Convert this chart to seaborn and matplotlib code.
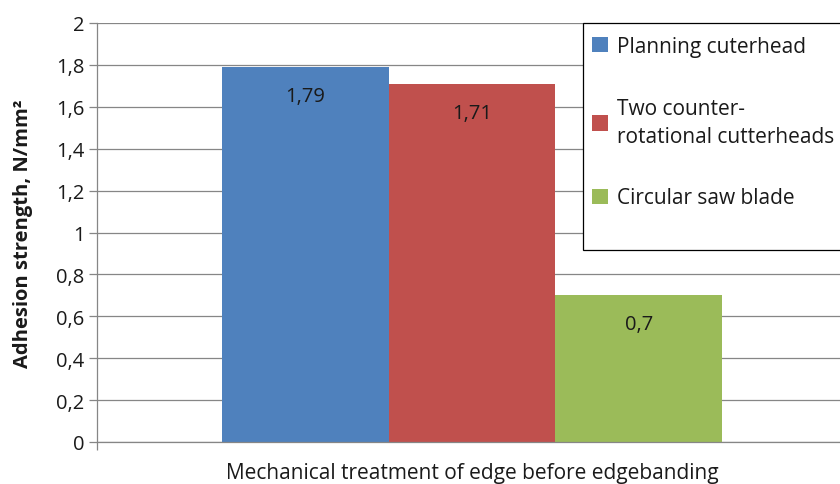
import numpy as np
import matplotlib
matplotlib.use('Agg')
import matplotlib.pyplot as plt
from matplotlib.patches import Rectangle
import pandas as pd
import seaborn as sns

treatments = ['Planning cuterhead', 'Two counter-\nrotational cutterheads', 'Circular saw blade']
strength = [1.79, 1.71, 0.7]
colors = ['#4F81BD', '#C0504D', '#9BBB59']
yticks = [0, 0.2, 0.4, 0.6, 0.8, 1.0, 1.2, 1.4, 1.6, 1.8, 2.0]

df = pd.DataFrame({'group': ['g'] * 3, 'treatment': treatments, 'strength': strength})

sns.set_style('white')
plt.rcParams['font.family'] = ['Open Sans', 'DejaVu Sans']
fs = 15
txt = '#1a1a1a'
grey = '#868686'

W, H = 840, 485
fig = plt.figure(figsize=(W / 100, H / 100), dpi=100)
ax = fig.add_axes([97 / W, 42 / H, 750 / W, 419 / H])

sns.barplot(data=df, x='group', y='strength', hue='treatment', hue_order=treatments,
            palette=colors, saturation=1, width=0.667, linewidth=0, ax=ax)

for c in ax.containers:
    ax.bar_label(c, fmt=lambda v: f'{v:g}'.replace('.', ','), padding=-28, fontsize=14.5, color=txt)

ax.set_xlim(-0.5, 0.5)
ax.set_ylim(0, 2)
ax.set_yticks(yticks)
ax.set_yticklabels([f'{v:g}'.replace('.', ',') for v in yticks], fontsize=14.5, color=txt)
ax.set_xticks([-0.5, 0.5])
ax.set_xticklabels(['', ''])
ax.tick_params(axis='both', length=6, width=0.9, color=grey, direction='out', pad=3)
ax.tick_params(axis='x', bottom=True)
ax.tick_params(axis='y', left=True)

ax.yaxis.grid(True, color=grey, linewidth=0.9)
ax.set_axisbelow(True)
for s in ['top', 'right']:
    ax.spines[s].set_visible(False)
for s in ['left', 'bottom']:
    ax.spines[s].set_color(grey)
    ax.spines[s].set_linewidth(0.9)

ax.set_xlabel('Mechanical treatment of edge before edgebanding', fontsize=fs, color=txt)
ax.xaxis.set_label_coords(0.5, -0.048)
ax.xaxis.label.set_va('top')
ax.set_ylabel('Adhesion strength, N/mm²', fontsize=14.5, fontweight='bold', color=txt)
ax.yaxis.set_label_coords(-0.085, 0.5)

# legend box, as Excel draws it (partly off the right edge)
box = Rectangle((583 / W, 1 - 251 / H), 280 / W, 227 / H, transform=fig.transFigure,
                facecolor='white', edgecolor='black', linewidth=0.9, zorder=5)
box.set_clip_on(False)
ax.add_patch(box)

handles, labels = ax.get_legend_handles_labels()
leg = ax.legend(handles, labels, loc='upper left', bbox_to_anchor=(592 / W, 1 - 37 / H),
                bbox_transform=fig.transFigure, frameon=False, fontsize=fs,
                handlelength=0.75, handleheight=0.75, handletextpad=0.45, labelspacing=1.95,
                borderpad=0, borderaxespad=0)
leg.set_zorder(6)
for t in leg.get_texts():
    t.set_color(txt)
    t.set_linespacing(1.45)

fig.savefig('out.png', dpi=100)
